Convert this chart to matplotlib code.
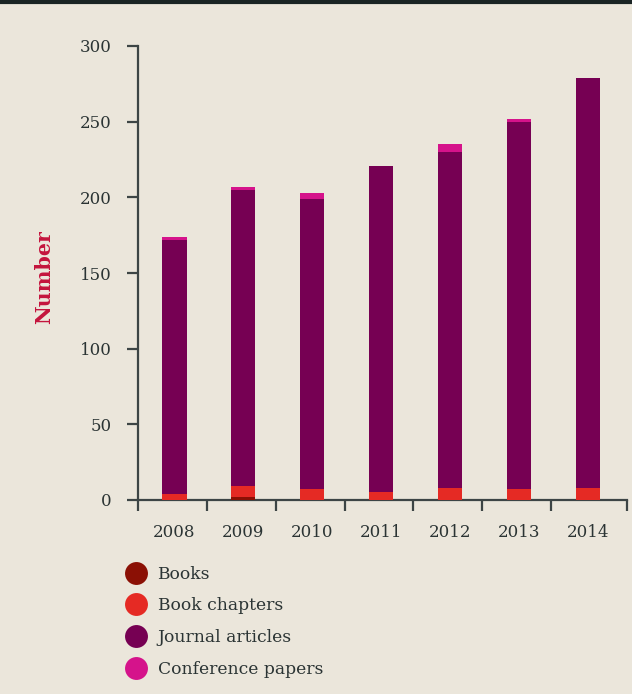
import matplotlib
matplotlib.use("Agg")
import matplotlib.pyplot as plt
from matplotlib.lines import Line2D
import numpy as np

years = ["2008", "2009", "2010", "2011", "2012", "2013", "2014"]
books = [0, 2, 0, 0, 0, 0, 0]
book_chapters = [4, 7, 7, 5, 8, 7, 8]
journal_articles = [168, 196, 192, 216, 222, 243, 271]
conference_papers = [2, 2, 4, 0, 5, 2, 0]
yticks = [0, 50, 100, 150, 200, 250, 300]

series_names = ["Books", "Book chapters", "Journal articles", "Conference papers"]
colors = ["#8b1005", "#e52a24", "#760053", "#d5138b"]

bg = "#ebe6db"
ink = "#2b3434"
font = "DejaVu Serif"

fig = plt.figure(figsize=(6.32, 6.94), dpi=100, facecolor=bg)
ax = fig.add_axes([138/632, (694-500)/694, (627-138)/632, (500-46)/694], facecolor=bg)

x = np.arange(len(years))
w = 0.35
bottom = np.zeros(len(years))
for vals, c in zip([books, book_chapters, journal_articles, conference_papers], colors):
    v = np.array(vals, dtype=float)
    ax.bar(x + 0.03, v, width=w, bottom=bottom, color=c, edgecolor="none", zorder=3)
    bottom += v

ax.set_ylim(0, 300)
ax.set_xlim(-0.5, 6.6)
ax.set_yticks(yticks)
ax.set_yticklabels([str(t) for t in yticks], fontsize=12, family=font, color=ink)
ax.set_xticks(x + 0.03)
ax.set_xticklabels(years, fontsize=12, family=font, color=ink)
ax.set_xticks(list(np.arange(-0.5, 6.0, 1.0)) + [6.6], minor=True)
ax.tick_params(axis="x", which="major", length=0, pad=17)
ax.tick_params(axis="x", which="minor", length=8, width=1.6, color="#3d4545", direction="out")
ax.tick_params(axis="y", which="major", length=8, width=1.6, color="#3d4545", pad=11)

for s in ["top", "right"]:
    ax.spines[s].set_visible(False)
for s in ["left", "bottom"]:
    ax.spines[s].set_color("#3d4545")
    ax.spines[s].set_linewidth(1.6)

fig.text(44/632, 1 - 277/694, "Number", rotation=90, ha="center", va="center",
         fontsize=14.8, fontweight="bold", family=font, color="#c4143d")

# top rule
fig.add_artist(Line2D([0, 1], [1 - 1.5/694, 1 - 1.5/694], transform=fig.transFigure,
                      color="#1a2424", linewidth=3))

handles = [Line2D([], [], marker="o", linestyle="none", markersize=16.5,
                  markerfacecolor=c, markeredgecolor="none") for c in colors]
leg = fig.legend(handles, series_names, loc="upper left",
                 bbox_to_anchor=(114/632, 1 - 557/694), frameon=False,
                 prop={"family": font, "size": 12.3}, labelspacing=0.86,
                 handletextpad=0.45, borderpad=0, handlelength=1.6)
for t in leg.get_texts():
    t.set_color(ink)

fig.savefig("out.png", dpi=100, facecolor=bg)
